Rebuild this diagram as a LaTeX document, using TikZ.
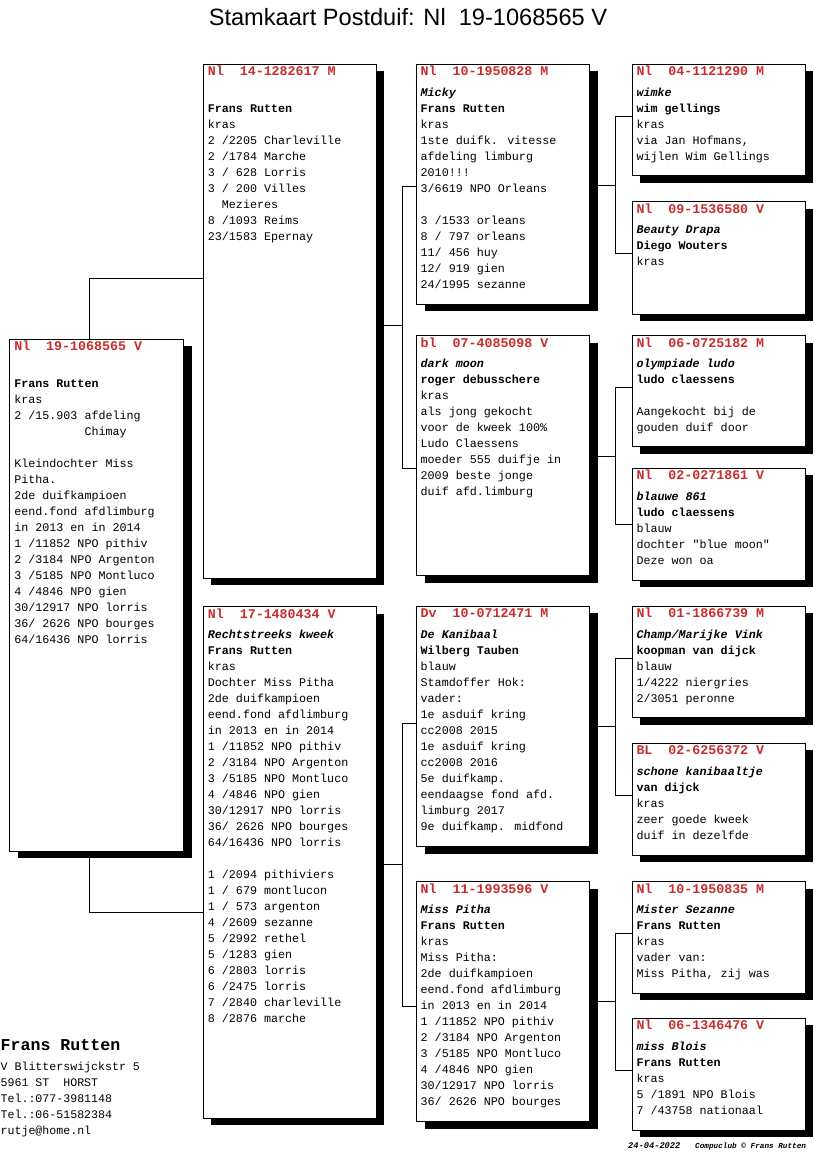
\documentclass[tikz,border=0pt]{standalone}
\usepackage{fontspec}
\newfontfamily\mono{Liberation Mono}
\newfontfamily\arialf{Liberation Sans}
\usetikzlibrary{shadows,calc}
\definecolor{hdr}{RGB}{200,45,45}
\newcommand\hd[1]{{\fontsize{13.3}{16}\selectfont\textcolor{hdr}{\textbf{#1}}}}
\newcommand\nm[1]{\textbf{\textit{#1}}}
\newcommand\br[1]{\textbf{#1}}
\tikzset{
 pbox/.style={draw=black, line width=1pt, fill=white, inner sep=0pt, outer sep=0pt, anchor=north west, minimum width=173pt,
   drop shadow={shadow xshift=8pt, shadow yshift=-7pt, fill=black, opacity=1}},
 ptxt/.style={font=\mono\fontsize{11.7}{16}\selectfont, align=left, inner sep=0pt, anchor=north west},
 link/.style={draw=black, line width=1pt}
}
\begin{document}
\begin{tikzpicture}[x=1pt,y=-1pt]
\useasboundingbox (0,0) rectangle (816,1172);
\fill[white] (0,0) rectangle (816,1172);

\node[anchor=base, inner sep=0pt, font=\arialf\fontsize{23.6}{28}\selectfont] (title) at (408,26) {Stamkaart Postduif: Nl\ \ 19-1068565 V};

% boxes
\node[pbox, minimum width=174pt, minimum height=512pt] (A) at (9.5,339) {};
\node[pbox, minimum height=514pt] (B) at (203.3,64.3) {};
\node[pbox, minimum height=511.5pt] (C) at (203.3,606.7) {};
\node[pbox, minimum height=240pt] (D) at (416.5,64.3) {};
\node[pbox, minimum height=240pt] (E) at (416.5,335.7) {};
\node[pbox, minimum height=240.7pt] (F) at (416.5,606) {};
\node[pbox, minimum height=240pt] (G) at (416.5,881.7) {};
\node[pbox, minimum height=111.4pt] (H) at (632.3,64.3) {};
\node[pbox, minimum height=112.6pt] (I) at (632.3,201.7) {};
\node[pbox, minimum height=111pt] (J) at (632.3,335.7) {};
\node[pbox, minimum height=111.7pt] (K) at (632.3,468.3) {};
\node[pbox, minimum height=111.7pt] (L) at (632.3,606) {};
\node[pbox, minimum height=111.7pt] (M) at (632.3,743.3) {};
\node[pbox, minimum height=111.6pt] (N) at (632.3,881.7) {};
\node[pbox, minimum height=111.7pt] (O) at (632.3,1018.3) {};

% connectors
\draw[link] (A.north -| 89.3,0) |- (B.west |- 0,278);
\draw[link] (A.south -| 89.3,0) |- (C.west |- 0,912);
\draw[link] (B.east |- 0,325) -- (402.3,325);
\draw[link] (D.west |- 0,186) -| (402.3,325) |- (E.west |- 0,468);
\draw[link] (C.east |- 0,864) -- (402.3,864);
\draw[link] (F.west |- 0,723) -| (402.3,864) |- (G.west |- 0,1006);
\draw[link] (D.east |- 0,185.5) -- (615.8,185.5);
\draw[link] (H.west |- 0,116.7) -| (615.8,185.5) |- (I.west |- 0,253.3);
\draw[link] (E.east |- 0,456.7) -- (615.8,456.7);
\draw[link] (J.west |- 0,387.7) -| (615.8,456.7) |- (K.west |- 0,524.3);
\draw[link] (F.east |- 0,726.7) -- (615.8,726.7);
\draw[link] (L.west |- 0,658.3) -| (615.8,726.7) |- (M.west |- 0,795);
\draw[link] (G.east |- 0,1001.7) -- (615.8,1001.7);
\draw[link] (N.west |- 0,933.3) -| (615.8,1001.7) |- (O.west |- 0,1070);

% texts
\node[ptxt] (tA) at ($(A.north west)+(4.6,0.2)$) {\strut\hd{Nl~~19-1068565 V}\\[4.6pt]
\mbox{}\\ \br{Frans Rutten}\\ kras\\ 2 /15.903 afdeling\\ \phantom{0000000000}Chimay\\ \mbox{}\\
Kleindochter Miss\\ Pitha.\\ 2de duifkampioen\\ eend.fond afdlimburg\\ in 2013 en in 2014\\
1 /11852 NPO pithiv\\ 2 /3184 NPO Argenton\\ 3 /5185 NPO Montluco\\ 4 /4846 NPO gien\\
30/12917 NPO lorris\\ 36/ 2626 NPO bourges\\ 64/16436 NPO lorris};

\node[ptxt] (tB) at ($(B.north west)+(4.4,0.2)$) {\strut\hd{Nl~~14-1282617 M}\\[4.6pt]
\mbox{}\\ \br{Frans Rutten}\\ kras\\ 2 /2205 Charleville\\ 2 /1784 Marche\\ 3 / 628 Lorris\\
3 / 200 Villes\\ \phantom{00}Mezieres\\ 8 /1093 Reims\\ 23/1583 Epernay};

\node[ptxt] (tC) at ($(C.north west)+(4.4,0.2)$) {\strut\hd{Nl~~17-1480434 V}\\[4.6pt]
\nm{Rechtstreeks kweek}\\ \br{Frans Rutten}\\ kras\\ Dochter Miss Pitha\\ 2de duifkampioen\\
eend.fond afdlimburg\\ in 2013 en in 2014\\ 1 /11852 NPO pithiv\\ 2 /3184 NPO Argenton\\
3 /5185 NPO Montluco\\ 4 /4846 NPO gien\\ 30/12917 NPO lorris\\ 36/ 2626 NPO bourges\\
64/16436 NPO lorris\\ \mbox{}\\ 1 /2094 pithiviers\\ 1 / 679 montlucon\\ 1 / 573 argenton\\
4 /2609 sezanne\\ 5 /2992 rethel\\ 5 /1283 gien\\ 6 /2803 lorris\\ 6 /2475 lorris\\
7 /2840 charleville\\ 8 /2876 marche};

\node[ptxt] (tD) at ($(D.north west)+(4,0.2)$) {\strut\hd{Nl~~10-1950828 M}\\[4.6pt]
\nm{Micky}\\ \br{Frans Rutten}\\ kras\\ 1ste duifk. vitesse\\ afdeling limburg\\ 2010!!!\\
3/6619 NPO Orleans\\ \mbox{}\\ 3 /1533 orleans\\ 8 / 797 orleans\\ 11/ 456 huy\\ 12/ 919 gien\\
24/1995 sezanne};

\node[ptxt] (tE) at ($(E.north west)+(4,0.2)$) {\strut\hd{bl~~07-4085098 V}\\[4.6pt]
\nm{dark moon}\\ \br{roger debusschere}\\ kras\\ als jong gekocht\\ voor de kweek 100\%\\
Ludo Claessens\\ moeder 555 duifje in\\ 2009 beste jonge\\ duif afd.limburg};

\node[ptxt] (tF) at ($(F.north west)+(4,0.2)$) {\strut\hd{Dv~~10-0712471 M}\\[4.6pt]
\nm{De Kanibaal}\\ \br{Wilberg Tauben}\\ blauw\\ Stamdoffer Hok:\\ vader:\\ 1e asduif kring\\
cc2008 2015\\ 1e asduif kring\\ cc2008 2016\\ 5e duifkamp.\\ eendaagse fond afd.\\
limburg 2017\\ 9e duifkamp. midfond};

\node[ptxt] (tG) at ($(G.north west)+(4,0.2)$) {\strut\hd{Nl~~11-1993596 V}\\[4.6pt]
\nm{Miss Pitha}\\ \br{Frans Rutten}\\ kras\\ Miss Pitha:\\ 2de duifkampioen\\
eend.fond afdlimburg\\ in 2013 en in 2014\\ 1 /11852 NPO pithiv\\ 2 /3184 NPO Argenton\\
3 /5185 NPO Montluco\\ 4 /4846 NPO gien\\ 30/12917 NPO lorris\\ 36/ 2626 NPO bourges};

\node[ptxt] (tH) at ($(H.north west)+(4,0.2)$) {\strut\hd{Nl~~04-1121290 M}\\[4.6pt]
\nm{wimke}\\ \br{wim gellings}\\ kras\\ via Jan Hofmans,\\ wijlen Wim Gellings};

\node[ptxt] (tI) at ($(I.north west)+(4,0.2)$) {\strut\hd{Nl~~09-1536580 V}\\[4.6pt]
\nm{Beauty Drapa}\\ \br{Diego Wouters}\\ kras};

\node[ptxt] (tJ) at ($(J.north west)+(4,0.2)$) {\strut\hd{Nl~~06-0725182 M}\\[4.6pt]
\nm{olympiade ludo}\\ \br{ludo claessens}\\ \mbox{}\\ Aangekocht bij de\\ gouden duif door};

\node[ptxt] (tK) at ($(K.north west)+(4,0.2)$) {\strut\hd{Nl~~02-0271861 V}\\[4.6pt]
\nm{blauwe 861}\\ \br{ludo claessens}\\ blauw\\ dochter "blue moon"\\ Deze won oa};

\node[ptxt] (tL) at ($(L.north west)+(4,0.2)$) {\strut\hd{Nl~~01-1866739 M}\\[4.6pt]
\nm{Champ/Marijke Vink}\\ \br{koopman van dijck}\\ blauw\\ 1/4222 niergries\\ 2/3051 peronne};

\node[ptxt] (tM) at ($(M.north west)+(4,0.2)$) {\strut\hd{BL~~02-6256372 V}\\[4.6pt]
\nm{schone kanibaaltje}\\ \br{van dijck}\\ kras\\ zeer goede kweek\\ duif in dezelfde};

\node[ptxt] (tN) at ($(N.north west)+(4,0.2)$) {\strut\hd{Nl~~10-1950835 M}\\[4.6pt]
\nm{Mister Sezanne}\\ \br{Frans Rutten}\\ kras\\ vader van:\\ Miss Pitha, zij was};

\node[ptxt] (tO) at ($(O.north west)+(4,0.2)$) {\strut\hd{Nl~~06-1346476 V}\\[4.6pt]
\nm{miss Blois}\\ \br{Frans Rutten}\\ kras\\ 5 /1891 NPO Blois\\ 7 /43758 nationaal};

% footer
\node[anchor=base west, inner sep=0pt, font=\mono\bfseries\fontsize{16.6}{20}\selectfont] (owner) at (0.5,1050) {Frans Rutten};
\node[ptxt, font=\mono\fontsize{11.6}{16}\selectfont] (addr) at (0.5,1058.8) {\strut V Blitterswijckstr 5\\ 5961 ST~~HORST\\ Tel.:077-3981148\\ Tel.:06-51582384\\ rutje@home.nl};
\node[anchor=base west, inner sep=0pt, font=\mono\bfseries\itshape\fontsize{8.7}{10}\selectfont] (date) at (628,1148.8) {24-04-2022};
\node[anchor=base west, inner sep=0pt, font=\mono\bfseries\itshape\fontsize{7.7}{10}\selectfont] (copy) at (695,1148.8) {Compuclub © Frans Rutten};
\end{tikzpicture}
\end{document}
